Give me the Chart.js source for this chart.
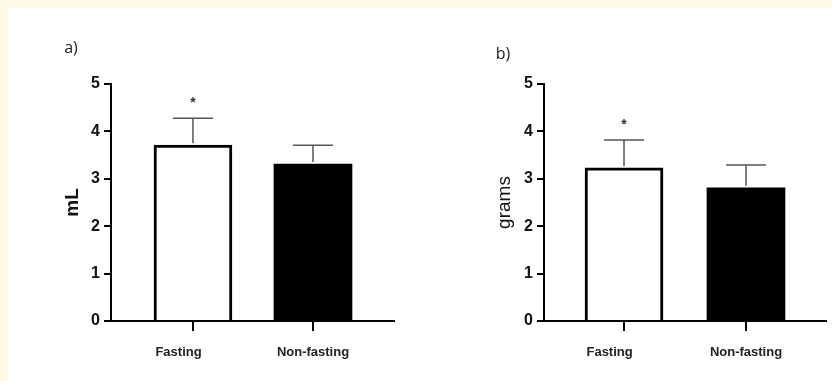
<!DOCTYPE html>
<html>
<head>
<meta charset="utf-8">
<script src="https://cdn.jsdelivr.net/npm/chart.js@4.4.1/dist/chart.umd.min.js"></script>
<style>
    body { margin: 0; background: #fffbe6; width: 832px; height: 381px; overflow: hidden; }
    #panel { position: absolute; left: 8px; top: 8px; width: 824px; height: 373px; background: #ffffff; }
    canvas { position: absolute; top: 8px; }
</style>
</head>
<body>
<div id="panel"></div>
<canvas id="chartA" width="412" height="373" style="left:8px"></canvas>
<canvas id="chartB" width="412" height="373" style="left:420px"></canvas>
<script>
const categories = ["Fasting", "Non-fasting"];
const volumeMeans = [3.71, 3.31];
const volumeErrors = [0.57, 0.40];
const weightMeans = [3.23, 2.81];
const weightErrors = [0.59, 0.48];
const significant = [true, false];
const yTicks = [0, 1, 2, 3, 4, 5];

const FONT = '"Liberation Sans", Arial, sans-serif';

// error bars, stars and the a)/b) label
const extrasPlugin = {
    id: 'extras',
    afterDatasetsDraw(chart, args, opts) {
        const ctx = chart.ctx;
        const xs = chart.scales.x, ys = chart.scales.y;
        ctx.save();
        opts.means.forEach((m, i) => {
            const x = xs.getPixelForValue(i);
            const yBar = ys.getPixelForValue(m);
            const yTop = ys.getPixelForValue(m + opts.errors[i]);
            ctx.strokeStyle = '#555';
            ctx.lineWidth = 1.5;
            ctx.beginPath();
            ctx.moveTo(x, yBar - 2);
            ctx.lineTo(x, yTop);
            ctx.moveTo(x - 20, yTop);
            ctx.lineTo(x + 20, yTop);
            ctx.stroke();
            if (significant[i]) {
                ctx.fillStyle = '#333';
                ctx.font = 'bold 14px ' + FONT;
                ctx.textAlign = 'center';
                ctx.textBaseline = 'middle';
                ctx.fillText('*', x, yTop - 15);
            }
        });
        ctx.fillStyle = '#222';
        ctx.font = '16px "Open Sans", sans-serif';
        ctx.textAlign = 'center';
        ctx.textBaseline = 'middle';
        ctx.fillText(opts.panel, opts.panelX, opts.panelY);
        ctx.restore();
    }
};

function drawPanel(canvasId, cfg) {
    new Chart(document.getElementById(canvasId), {
        type: 'bar',
        data: {
            datasets: [{
                data: cfg.means.map((v, i) => ({ x: i, y: v })),
                backgroundColor: ['#ffffff', '#000000'],
                borderColor: ['#000000', '#000000'],
                borderWidth: [3, 0],
                barThickness: 78
            }]
        },
        options: {
            responsive: false,
            animation: false,
            layout: { padding: { left: 0, right: cfg.padRight, top: 76, bottom: 0 } },
            plugins: {
                legend: { display: false },
                tooltip: { enabled: false },
                extras: { means: cfg.means, errors: cfg.errors, panel: cfg.panel, panelX: cfg.panelX, panelY: cfg.panelY }
            },
            scales: {
                x: {
                    type: 'linear',
                    offset: false,
                    min: cfg.xMin,
                    max: cfg.xMax,
                    afterBuildTicks: (scale) => { scale.ticks = categories.map((c, i) => ({ value: i })); },
                    afterFit: (scale) => { scale.height = 60; },
                    ticks: {
                        padding: 14,
                        color: '#222',
                        font: { family: FONT, size: 13, weight: 'bold' },
                        maxRotation: 0,
                        callback: (v) => v === 0 ? categories[0] + '\u00a0'.repeat(8) : categories[v]
                    },
                    grid: { offset: false, drawOnChartArea: false, tickLength: 10, color: '#000', lineWidth: 2 },
                    border: { color: '#000', width: 2 }
                },
                y: {
                    min: 0,
                    max: 5,
                    afterBuildTicks: (scale) => { scale.ticks = yTicks.map(v => ({ value: v })); },
                    afterFit: (scale) => { scale.width = cfg.yWidth; },
                    ticks: {
                        padding: 4,
                        color: '#111',
                        font: { family: FONT, size: 16, weight: 'bold' }
                    },
                    grid: { drawOnChartArea: false, tickLength: 7, color: '#000', lineWidth: 2 },
                    border: { color: '#000', width: 2 },
                    title: {
                        display: true,
                        text: cfg.yTitle,
                        color: '#111',
                        font: { family: FONT, size: 19, weight: cfg.titleWeight },
                        padding: { top: cfg.titlePad, bottom: 0 }
                    }
                }
            }
        },
        plugins: [extrasPlugin]
    });
}

drawPanel('chartA', {
    means: volumeMeans, errors: volumeErrors, yTitle: 'mL', titleWeight: 'bold',
    yWidth: 103, titlePad: 53.6, padRight: 26, xMin: -0.683, xMax: 1.675,
    panel: 'a)', panelX: 63, panelY: 40
});
drawPanel('chartB', {
    means: weightMeans, errors: weightErrors, yTitle: 'grams', titleWeight: 'normal',
    yWidth: 124, titlePad: 73.6, padRight: 6, xMin: -0.656, xMax: 1.656,
    panel: 'b)', panelX: 83, panelY: 46
});
</script>
</body>
</html>
